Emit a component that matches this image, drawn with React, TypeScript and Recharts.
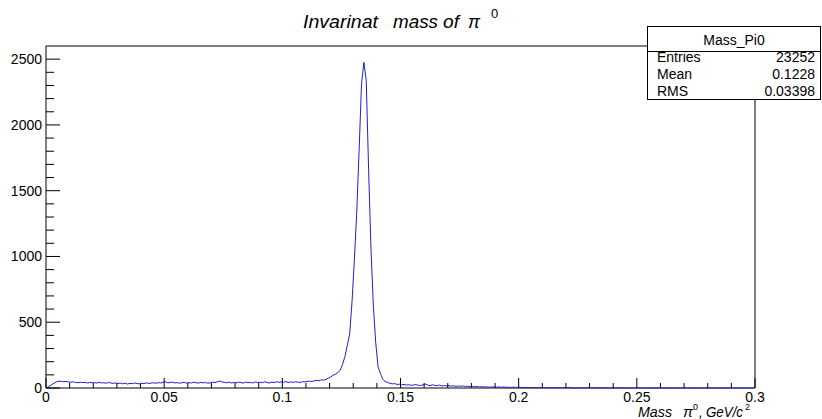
import React from 'react';
import { LineChart, Line, XAxis, YAxis, ReferenceArea } from 'recharts';

// histogram Mass_Pi0: 300 bins of 0.001 GeV/c^2 from 0 to 0.3
const binWidth = 0.001;
const counts = [
  4, 14, 26, 38, 47, 52, 50, 48, 50, 46,
  44, 47, 42, 40, 44, 41, 43, 38, 42, 40,
  41, 37, 43, 39, 40, 36, 42, 38, 35, 39,
  34, 37, 32, 36, 30, 35, 33, 38, 34, 31,
  36, 33, 39, 35, 37, 40, 36, 41, 38, 44,
  48, 39, 42, 45, 38, 41, 36, 40, 43, 37,
  41, 38, 44, 40, 37, 43, 39, 42, 36, 40,
  45, 41, 48, 52, 46, 43, 40, 44, 38, 42,
  39, 44, 41, 37, 45, 40, 43, 38, 46, 41,
  44, 40, 47, 42, 38, 45, 41, 48, 43, 46,
  44, 49, 42, 46, 43, 47, 45, 42, 48, 46,
  50, 52, 49, 55, 58, 56, 62, 60, 66, 76,
  85, 97, 105, 118, 135, 180, 240, 324, 410, 660,
  978, 1343, 1812, 2310, 2476, 2340, 1663, 1063, 630, 348,
  162, 110, 67, 50, 42, 36, 31, 34, 27, 29,
  24, 27, 22, 25, 20, 23, 26, 21, 19, 24,
  30, 22, 18, 25, 20, 17, 22, 15, 19, 16,
  18, 14, 17, 12, 15, 13, 16, 11, 14, 10,
  12, 9, 11, 8, 10, 7, 9, 6, 8, 7,
  6, 8, 5, 7, 6, 5, 4, 6, 5, 4,
  5, 3, 4, 3, 4, 2, 3, 2, 4, 2,
  3, 2, 1, 2, 3, 1, 2, 1, 2, 1,
  2, 4, 1, 0, 1, 2, 0, 1, 0, 2,
  1, 0, 0, 1, 2, 0, 1, 0, 0, 1,
  0, 2, 0, 1, 0, 0, 1, 0, 2, 0,
  1, 0, 0, 1, 0, 0, 2, 0, 0, 1,
  0, 1, 0, 0, 1, 0, 0, 0, 1, 0,
  0, 0, 1, 0, 0, 0, 0, 1, 0, 0,
  0, 1, 0, 0, 0, 0, 0, 2, 0, 0,
  0, 0, 1, 0, 0, 0, 0, 0, 0, 0,
];

const xTicks = [
  0, 0.01, 0.02, 0.03, 0.04, 0.05, 0.06, 0.07, 0.08, 0.09, 0.1,
  0.11, 0.12, 0.13, 0.14, 0.15, 0.16, 0.17, 0.18, 0.19, 0.2,
  0.21, 0.22, 0.23, 0.24, 0.25, 0.26, 0.27, 0.28, 0.29, 0.3,
];
const yTicks = [
  0, 100, 200, 300, 400, 500, 600, 700, 800, 900, 1000, 1100, 1200,
  1300, 1400, 1500, 1600, 1700, 1800, 1900, 2000, 2100, 2200, 2300, 2400, 2500,
];

const statsName = 'Mass_Pi0';
const statsLabels = ['Entries', 'Mean', 'RMS'];
const statsValues = ['23252', '0.1228', '0.03398'];

const data = counts.map((c, i) => ({ x: (i + 0.5) * binWidth, y: c }));

const font = '"Liberation Sans", Arial, Helvetica, sans-serif';

const XTick = (props: any) => {
  const { x, y, payload } = props;
  const v = payload.value;
  const major = Math.round(v * 100) % 5 === 0;
  return (
    <g>
      <line x1={x} x2={x} y1={y} y2={y - (major ? 10 : 5)} stroke="#000" />
      {major && (
        <text x={x} y={y + 14} textAnchor="middle" fontSize={14} fill="#000" fontFamily={font}>
          {String(v)}
        </text>
      )}
    </g>
  );
};

const YTick = (props: any) => {
  const { x, y, payload } = props;
  const v = payload.value;
  const major = v % 500 === 0;
  return (
    <g>
      <line x1={x} x2={x + (major ? 14 : 8)} y1={y} y2={y} stroke="#000" />
      {major && (
        <text x={x - 4} y={y + 5} textAnchor="end" fontSize={14} fill="#000" fontFamily={font}>
          {String(v)}
        </text>
      )}
    </g>
  );
};

export default function App() {
  return (
    <div style={{ position: 'absolute', left: 0, top: 0, width: 822, height: 419, background: '#fff' }}>
      <LineChart width={822} height={419} data={data} margin={{ top: 46, right: 67, bottom: 0, left: 0 }}>
        <XAxis
          type="number"
          dataKey="x"
          domain={[0, 0.3]}
          ticks={xTicks}
          interval={0}
          height={31}
          tickSize={0}
          tickMargin={0}
          axisLine={false}
          tickLine={false}
          tick={<XTick />}
        />
        <YAxis
          type="number"
          domain={[0, 2600]}
          ticks={yTicks}
          interval={0}
          width={46}
          tickSize={0}
          tickMargin={0}
          axisLine={false}
          tickLine={false}
          tick={<YTick />}
        />
        <ReferenceArea x1={0} x2={0.3} y1={0} y2={2600} fill="none" stroke="#000" strokeWidth={1} />
        <Line
          type="linear"
          dataKey="y"
          stroke="#2020cc"
          strokeWidth={1}
          dot={false}
          isAnimationActive={false}
        />
      </LineChart>
      <svg
        width={822}
        height={419}
        style={{ position: 'absolute', left: 0, top: 0, pointerEvents: 'none' }}
        fontFamily={font}
      >
        {/* title */}
        <g fontStyle="italic" fontSize={19} fill="#000">
          <text x={303} y={28} textLength={75} lengthAdjust="spacingAndGlyphs">Invarinat</text>
          <text x={393} y={28} textLength={45} lengthAdjust="spacingAndGlyphs">mass</text>
          <text x={443} y={28} textLength={16} lengthAdjust="spacingAndGlyphs">of</text>
          <text x={468} y={28} textLength={12} lengthAdjust="spacingAndGlyphs">π</text>
          <text x={491} y={18} fontSize={13} fontStyle="normal">0</text>
        </g>
        {/* axis title */}
        <g fontStyle="italic" fontSize={14} fill="#000">
          <text x={638} y={417} textLength={34} lengthAdjust="spacingAndGlyphs">Mass</text>
          <text x={683} y={417} textLength={10} lengthAdjust="spacingAndGlyphs">π</text>
          <text x={693} y={409.5} fontSize={9} fontStyle="normal">0</text>
          <text x={699} y={417}>,</text>
          <text x={706} y={417} textLength={37} lengthAdjust="spacingAndGlyphs">GeV/c</text>
          <text x={745} y={410} fontSize={9} fontStyle="normal">2</text>
        </g>
        {/* stats box */}
        <rect x={647.5} y={26.5} width={173} height={73} fill="#fff" stroke="#000" />
        <line x1={647.5} x2={820.5} y1={51.5} y2={51.5} stroke="#000" />
        <text x={734} y={45} textAnchor="middle" fontSize={14} fill="#000">{statsName}</text>
        {statsLabels.map((label, i) => (
          <g key={label}>
            <text x={657} y={62 + i * 17} fontSize={14} fill="#000">{label}</text>
            <text x={815} y={62 + i * 17} textAnchor="end" fontSize={14} fill="#000">{statsValues[i]}</text>
          </g>
        ))}
      </svg>
    </div>
  );
}
